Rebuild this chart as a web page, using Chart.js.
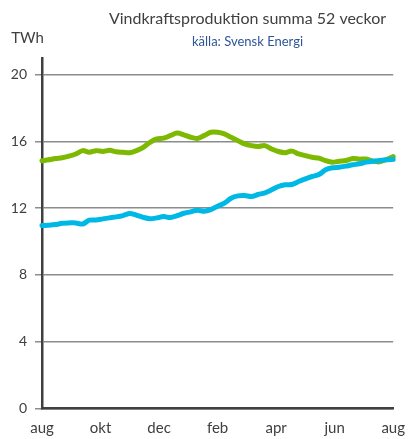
<!DOCTYPE html>
<html>
<head>
<meta charset="utf-8">
<script src="https://cdn.jsdelivr.net/npm/chart.js@4.4.0/dist/chart.umd.min.js"></script>
<style>
html, body { margin: 0; padding: 0; background: #fff; }
</style>
</head>
<body>
<canvas id="chart" width="408" height="439"></canvas>
<script>
// månadsetiketter på x-axeln (var åttonde-nionde vecka)
var monthLabels = ['aug', 'okt', 'dec', 'feb', 'apr', 'jun', 'aug'];
var yTicks = [0, 4, 8, 12, 16, 20];

// summa 52 veckor, TWh, övre kurvan
var greenSeries = [
    14.84, 14.90, 14.98, 15.02, 15.12, 15.25, 15.45, 15.35, 15.45, 15.40,
    15.47, 15.38, 15.35, 15.32, 15.45, 15.65, 15.95, 16.15, 16.20, 16.35,
    16.50, 16.40, 16.25, 16.18, 16.35, 16.55, 16.55, 16.45, 16.25, 16.05,
    15.85, 15.75, 15.70, 15.75, 15.55, 15.40, 15.33, 15.42, 15.25, 15.15,
    15.05, 15.00, 14.85, 14.76, 14.82, 14.86, 14.98, 14.94, 14.95, 14.82,
    14.78, 14.92, 15.10
];
// nedre kurvan
var cyanSeries = [
    10.96, 10.98, 11.02, 11.10, 11.12, 11.12, 11.05, 11.28, 11.30, 11.36,
    11.42, 11.48, 11.56, 11.68, 11.58, 11.45, 11.37, 11.42, 11.50, 11.44,
    11.55, 11.70, 11.78, 11.88, 11.82, 11.92, 12.12, 12.30, 12.60, 12.74,
    12.76, 12.70, 12.82, 12.92, 13.10, 13.30, 13.40, 13.42, 13.60, 13.76,
    13.90, 14.02, 14.30, 14.42, 14.46, 14.52, 14.60, 14.66, 14.76, 14.82,
    14.86, 14.90, 14.93
];

var weekCount = greenSeries.length - 1;

function toPoints(values) {
    return values.map(function (v, i) { return { x: i, y: v }; });
}

// rubriker som i originalet
var textPlugin = {
    id: 'texts',
    afterDraw: function (chart) {
        var ctx = chart.ctx;
        ctx.save();
        ctx.textAlign = 'center';
        ctx.textBaseline = 'middle';
        ctx.fillStyle = '#404040';
        ctx.font = '16px Lato';
        ctx.fillText('Vindkraftsproduktion summa 52 veckor', 247.5, 19);
        ctx.fillStyle = '#2f5597';
        ctx.font = '13px Lato';
        ctx.fillText('källa: Svensk Energi', 247.5, 42);
        ctx.fillStyle = '#404040';
        ctx.font = '15px Lato';
        ctx.fillText('TWh', 27.5, 38);
        ctx.restore();
    }
};

new Chart(document.getElementById('chart').getContext('2d'), {
    type: 'line',
    data: {
        datasets: [
            {
                label: 'nedre',
                data: toPoints(cyanSeries),
                borderColor: '#00b8e6',
                borderWidth: 5,
                pointRadius: 0,
                tension: 0.3,
                borderJoinStyle: 'round',
                borderCapStyle: 'round',
                fill: false,
                clip: false
            },
            {
                label: 'övre',
                data: toPoints(greenSeries),
                borderColor: '#7cb900',
                borderWidth: 5,
                pointRadius: 0,
                tension: 0.3,
                borderJoinStyle: 'round',
                borderCapStyle: 'round',
                fill: false,
                clip: false
            }
        ]
    },
    options: {
        responsive: false,
        animation: false,
        layout: { padding: { top: 58, right: 6, left: 0, bottom: 0 } },
        plugins: {
            legend: { display: false },
            tooltip: { enabled: false }
        },
        scales: {
            x: {
                type: 'linear',
                min: 0,
                max: weekCount,
                afterBuildTicks: function (scale) {
                    scale.ticks = monthLabels.map(function (m, i) {
                        return { value: weekCount * i / (monthLabels.length - 1) };
                    });
                },
                afterFit: function (scale) { scale.height = 30.5; },
                ticks: {
                    autoSkip: false,
                    maxRotation: 0,
                    padding: 3,
                    color: '#404040',
                    font: { family: 'Lato', size: 15 },
                    callback: function (value, index) { return monthLabels[index]; }
                },
                grid: { display: false },
                border: { display: true, color: '#404040', width: 2.5 }
            },
            y: {
                min: 0,
                max: 21,
                afterBuildTicks: function (scale) {
                    scale.ticks = yTicks.map(function (v) { return { value: v }; });
                },
                afterFit: function (scale) { scale.width = 42; },
                ticks: {
                    padding: 8,
                    color: '#404040',
                    font: { family: 'Lato', size: 14 }
                },
                grid: { color: '#8c8c8c', lineWidth: 1.5, tickLength: 7 },
                border: { display: true, color: '#404040', width: 2.5 }
            }
        }
    },
    plugins: [textPlugin]
});
</script>
</body>
</html>
